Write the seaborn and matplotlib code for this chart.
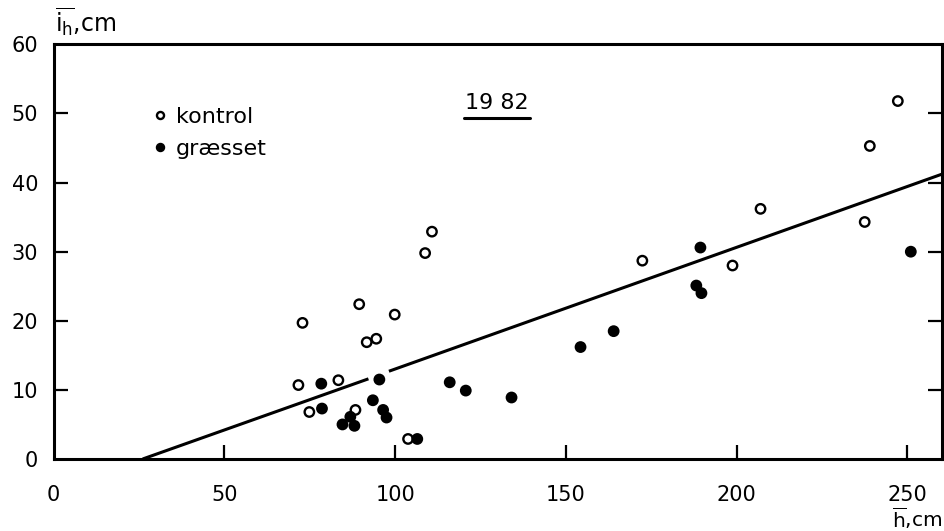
import matplotlib
matplotlib.use("Agg")
import matplotlib.pyplot as plt
import pandas as pd
import seaborn as sns

# kontrol (open circles)
kontrol_h = [71.7, 72.9, 74.9, 83.4, 88.4, 89.5, 91.7, 94.5, 99.9, 103.8,
             108.8, 110.8, 172.4, 198.8, 207.0, 237.5, 239.0, 247.2]
kontrol_i = [10.7, 19.7, 6.8, 11.4, 7.1, 22.4, 16.9, 17.4, 20.9, 2.9,
             29.8, 32.9, 28.7, 28.0, 36.2, 34.3, 45.3, 51.8]

# græsset (filled circles)
graesset_h = [78.4, 78.6, 84.6, 86.9, 88.1, 93.5, 95.4, 96.5, 97.5, 106.5,
              116.0, 120.7, 134.1, 154.3, 164.0, 188.2, 189.4, 189.7, 251.0]
graesset_i = [10.9, 7.3, 5.0, 6.1, 4.8, 8.5, 11.5, 7.1, 6.0, 2.9,
              11.1, 9.9, 8.9, 16.2, 18.5, 25.1, 30.6, 24.0, 30.0]

# regression line (drawn with a small break, as in the original)
line_h = [26.1, 92.2, 98.2, 260.0]
line_i = [0.0, 11.6, 12.7, 41.2]

x_ticks = [0, 50, 100, 150, 200, 250]
y_ticks = [0, 10, 20, 30, 40, 50, 60]

df = pd.DataFrame({
    "h": kontrol_h + graesset_h,
    "i": kontrol_i + graesset_i,
    "group": ["kontrol"] * len(kontrol_h) + ["græsset"] * len(graesset_h),
})

sns.set_style("white")
plt.rcParams["font.family"] = ["DejaVu Sans"]
plt.rcParams["mathtext.fontset"] = "dejavusans"
plt.rcParams["text.color"] = "black"
plt.rcParams["xtick.color"] = "black"
plt.rcParams["ytick.color"] = "black"
plt.rcParams["xtick.labelcolor"] = "black"
plt.rcParams["ytick.labelcolor"] = "black"

fig = plt.figure(figsize=(9.44, 5.31), dpi=100)
ax = fig.add_axes([0.0567, 0.1356, 0.9407, 0.7808])

sns.scatterplot(data=df, x="h", y="i", hue="group",
                palette={"kontrol": "white", "græsset": "black"},
                edgecolor="black", linewidth=1.7, s=46, ax=ax, zorder=3)

ax.plot(line_h[:2], line_i[:2], color="black", lw=2.2, solid_capstyle="butt")
ax.plot(line_h[2:], line_i[2:], color="black", lw=2.2, solid_capstyle="butt")

ax.set_xlim(0, 260)
ax.set_ylim(0, 60)
ax.set_xticks(x_ticks)
ax.set_yticks(y_ticks)
ax.set_xlabel("")
ax.set_ylabel("")

for s in ax.spines.values():
    s.set_visible(True)
    s.set_linewidth(2.2)
    s.set_color("black")

ax.tick_params(axis="x", direction="in", length=10, width=1.6, pad=19,
               labelsize=15, top=False, bottom=True)
ax.tick_params(axis="y", direction="in", length=10, width=1.6, pad=11,
               labelsize=15, left=True, right=True)
# hide the tick marks that would sit on the spines
ax.xaxis.get_major_ticks()[0].tick1line.set_visible(False)
for k in (0, -1):
    ax.yaxis.get_major_ticks()[k].tick1line.set_visible(False)
    ax.yaxis.get_major_ticks()[k].tick2line.set_visible(False)

handles, labels = ax.get_legend_handles_labels()
order = [labels.index("kontrol"), labels.index("græsset")]
ax.legend([handles[k] for k in order], [labels[k] for k in order],
          loc="center left", bbox_to_anchor=(0.085, 0.787), frameon=False,
          fontsize=16, markerscale=0.75, handletextpad=0.2, labelspacing=0.55,
          handlelength=1.0)

ax.text(129.8, 51.5, "19 82", fontsize=16, ha="center", va="center")
ax.plot([0.462, 0.537], [0.822, 0.822], transform=ax.transAxes,
        color="black", lw=2.2, clip_on=False)

fig.text(0.058, 0.958, r"$\overline{\mathrm{i}_{\mathrm{h}}}$,cm", fontsize=17,
         ha="left", va="center")
fig.text(0.998, 0.0, r"$\overline{\mathrm{h}}$,cm", fontsize=14.5,
         ha="right", va="bottom")

fig.savefig("out.png", dpi=100, facecolor="white")
